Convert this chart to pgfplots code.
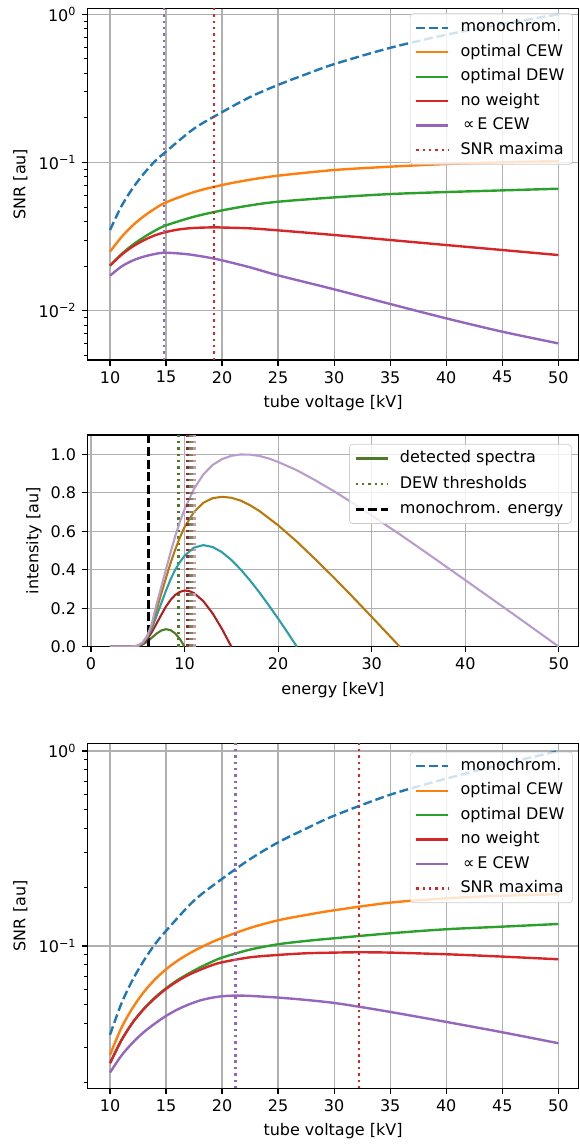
\documentclass[border=0pt]{standalone}
\usepackage{fontspec}
\setmainfont{DejaVu Sans}
\usepackage{pgfplots}
\pgfplotsset{compat=1.18}
\definecolor{C0}{HTML}{1F77B4}
\definecolor{C1}{HTML}{FF7F0E}
\definecolor{C2}{HTML}{2CA02C}
\definecolor{C3}{HTML}{D62728}
\definecolor{C4}{HTML}{9467BD}
\definecolor{sOlive}{HTML}{4E7A27}
\definecolor{sRed}{HTML}{B01F1F}
\definecolor{sTeal}{HTML}{2A9FA8}
\definecolor{sGold}{HTML}{B8780A}
\definecolor{sLilac}{HTML}{B89CCC}
\definecolor{gridc}{HTML}{B0B0B0}
\pgfplotsset{
  myaxis/.style={
    scale only axis, anchor=south west,
    axis line style={line width=0.8pt},
    tick align=outside, tick pos=left,
    major tick length=3.5pt, minor tick length=2pt,
    tick style={line width=0.8pt, black},
    minor tick style={line width=0.6pt, black},
    grid=major, major grid style={gridc, line width=0.8pt},
    /pgf/number format/assume math mode=true,
    legend cell align=left,
    legend style={fill=white, fill opacity=0.8, draw opacity=1, text opacity=1,
      draw=black!20, rounded corners=2pt, font=\fontsize{10}{12}\selectfont,
      nodes={inner sep=2pt, text height=7.5pt, text depth=2.2pt},
      /tikz/every odd column/.append style={column sep=5pt}},
    legend image code/.code={\draw[#1] (0pt,0pt) -- (20pt,0pt);},
    every axis plot/.append style={line width=1.5pt, line cap=butt},
  },
  mydash/.style={dash pattern=on 5.55pt off 2.4pt},
  mydot/.style={dash pattern=on 1.5pt off 2.475pt},
}
\begin{document}
\begin{tikzpicture}
\useasboundingbox (0,0) rectangle (361.9pt,715pt);
% ---------------- top axis ----------------
\begin{axis}[myaxis,
  at={(54.75pt,490pt)}, width=306.8pt, height=219.8pt,
  xmin=8, xmax=51.8, ymode=log, ymin=0.00465, ymax=1.098,
  xtick={10,15,...,50},
  ytick={0.01,0.1,1}, yticklabels={10\textsuperscript{−2},10\textsuperscript{−1},10\textsuperscript{0}},
  minor ytick={0.005,0.006,0.007,0.008,0.009,0.02,0.03,0.04,0.05,0.06,0.07,0.08,0.09,0.2,0.3,0.4,0.5,0.6,0.7,0.8,0.9},
  xlabel={tube voltage [kV]}, ylabel={SNR [au]},
  xlabel style={at={(axis description cs:0.5,0)}, anchor=center, yshift=-26.7pt},
  ylabel style={at={(axis description cs:-0.1369,0.5)}, anchor=center},
  legend style={at={(1,1)}, anchor=north east, xshift=-3.6pt, yshift=-3.1pt, row sep=1.6pt},
]
\addplot[C0, mydash, smooth] coordinates {(10,0.035)(11,0.0504)(12,0.0667)(13,0.0838)(14,0.1019)(15,0.1186)(17.5,0.1694)(20,0.2188)(22.5,0.2767)(25,0.3342)(27.5,0.3945)(30,0.4613)(35,0.5943)(40,0.7278)(45,0.859)(50,1.0)};
\addlegendentry{monochrom.}
\addplot[C1, smooth] coordinates {(10,0.02502)(11,0.03126)(12,0.03747)(13,0.04332)(14,0.04882)(15,0.05385)(17.5,0.06322)(20,0.0705)(22.5,0.07659)(25,0.0815)(30,0.08901)(35,0.09374)(40,0.0977)(45,0.1003)(50,0.1023)};
\addlegendentry{optimal CEW}
\addplot[C2, smooth] coordinates {(10,0.02013)(11,0.024)(12,0.02774)(13,0.03125)(14,0.03466)(15,0.03766)(17.5,0.04309)(20,0.04753)(22.5,0.05137)(25,0.05438)(30,0.05817)(35,0.06127)(40,0.0632)(45,0.06486)(50,0.06656)};
\addlegendentry{optimal DEW}
\addplot[C3, smooth] coordinates {(10,0.02013)(11,0.02375)(12,0.02704)(13,0.02984)(14,0.03226)(15,0.03397)(16,0.03522)(17,0.03596)(18,0.03633)(19.3,0.03652)(20,0.03643)(22.5,0.03596)(25,0.03486)(30,0.03243)(35,0.03)(40,0.02775)(45,0.02568)(50,0.02375)};
\addlegendentry{no weight}
\addplot[C4, smooth] coordinates {(10,0.01723)(11,0.01982)(12,0.02177)(13,0.02316)(14,0.02413)(14.8,0.02464)(16,0.02439)(17,0.024)(18,0.02339)(19,0.02268)(20,0.02187)(22.5,0.01962)(25,0.01732)(30,0.01394)(35,0.0111)(40,0.00888)(45,0.00722)(50,0.00602)};
\addlegendentry{\,∝\,E CEW}
\addplot[C4, mydot, forget plot] coordinates {(14.8,0.00465)(14.8,1.098)};
\addplot[C3, mydot] coordinates {(19.3,0.00465)(19.3,1.098)};
\addlegendentry{SNR maxima}
\end{axis}
% ---------------- middle axis ----------------
\begin{axis}[myaxis,
  at={(54.56pt,310.8pt)}, width=307pt, height=132.3pt,
  xmin=-0.4, xmax=52.1, ymin=0, ymax=1.1,
  xtick={0,10,...,50}, ytick={0,0.2,...,1.0},
  yticklabel style={/pgf/number format/.cd, fixed, fixed zerofill, precision=1},
  xlabel={energy [keV]}, ylabel={intensity [au]},
  xlabel style={at={(axis description cs:0.5,0)}, anchor=center, yshift=-27pt},
  ylabel style={at={(axis description cs:-0.1085,0.5)}, anchor=center},
  legend style={at={(1,1)}, anchor=north east, xshift=-4.25pt, yshift=-5.6pt, row sep=2.2pt},
  every axis plot/.append style={line width=1.3pt},
]
\addplot[sOlive] coordinates {(2,0)(3,0)(4,0)(5,0.003)(5.5,0.011)(6,0.027)(6.5,0.047)(7,0.068)(7.5,0.084)(8,0.091)(8.5,0.086)(9,0.069)(9.5,0.04)(10,0)};
\addlegendentry{detected spectra}
\addplot[sOlive, mydot, line width=1.5pt] coordinates {(9.35,0)(9.35,1.1)};
\addlegendentry{DEW thresholds}
\addplot[black, mydash, line width=1.5pt] coordinates {(6.15,0)(6.15,1.1)};
\addlegendentry{monochrom. energy}
\addplot[sRed, forget plot] coordinates {(2,0)(3,0)(4,0)(5,0.004)(5.5,0.015)(6,0.039)(6.5,0.076)(7,0.12)(7.5,0.165)(8,0.208)(8.5,0.243)(9,0.269)(9.5,0.285)(10,0.292)(10.5,0.289)(11,0.279)(12,0.237)(13,0.173)(14,0.092)(15,0)};
\addplot[sTeal, forget plot] coordinates {(2,0)(3,0)(4,0)(5,0.004)(5.5,0.018)(6,0.047)(6.5,0.095)(7,0.16)(7.5,0.225)(8,0.29)(8.5,0.35)(9,0.4)(9.5,0.44)(10,0.473)(11,0.515)(12,0.528)(13,0.518)(14,0.491)(15,0.451)(16,0.401)(17,0.344)(18,0.282)(19,0.215)(20,0.146)(21,0.074)(22,0)};
\addplot[sGold, forget plot] coordinates {(2,0)(3,0)(4,0)(5,0.005)(5.5,0.02)(6,0.053)(6.5,0.11)(7,0.19)(7.5,0.275)(8,0.355)(8.5,0.435)(9,0.505)(9.5,0.568)(10,0.622)(11,0.700)(12,0.748)(13,0.772)(14,0.779)(15,0.774)(16,0.759)(17,0.735)(18,0.705)(20,0.631)(22,0.546)(24,0.453)(26,0.357)(28,0.257)(30,0.155)(33,0)};
\addplot[sLilac, forget plot] coordinates {(2,0)(3,0)(4,0)(5,0.005)(5.5,0.021)(6,0.056)(6.5,0.12)(7,0.22)(7.5,0.31)(8,0.40)(8.5,0.49)(9,0.575)(9.5,0.65)(10,0.715)(11,0.82)(12,0.895)(13,0.945)(14,0.975)(15,0.992)(16,0.999)(17,0.998)(18,0.991)(19,0.978)(20,0.960)(22,0.917)(24,0.864)(26,0.807)(28,0.746)(30,0.682)(33,0.584)(36,0.483)(40,0.346)(45,0.174)(50,0)};
\addplot[sRed, mydot, line width=1.5pt, forget plot] coordinates {(10.3,0)(10.3,1.1)};
\addplot[sTeal, mydot, line width=1.5pt, forget plot] coordinates {(10.55,0)(10.55,1.1)};
\addplot[sGold, mydot, line width=1.5pt, forget plot] coordinates {(10.8,0)(10.8,1.1)};
\addplot[sLilac, mydot, line width=1.5pt, forget plot] coordinates {(11.05,0)(11.05,1.1)};
\end{axis}
% ---------------- bottom axis ----------------
\begin{axis}[myaxis,
  at={(54.75pt,34.8pt)}, width=306.8pt, height=215.6pt,
  xmin=8, xmax=51.8, ymode=log, ymin=0.0186, ymax=1.095,
  xtick={10,15,...,50},
  ytick={0.1,1}, yticklabels={10\textsuperscript{−1},10\textsuperscript{0}},
  minor ytick={0.02,0.03,0.04,0.05,0.06,0.07,0.08,0.09,0.2,0.3,0.4,0.5,0.6,0.7,0.8,0.9},
  xlabel={tube voltage [kV]}, ylabel={SNR [au]},
  xlabel style={at={(axis description cs:0.5,0)}, anchor=center, yshift=-26.7pt},
  ylabel style={at={(axis description cs:-0.1369,0.5)}, anchor=center},
  legend style={at={(1,1)}, anchor=north east, xshift=-3.6pt, yshift=-5.25pt, row sep=1.6pt},
]
\addplot[C0, mydash, smooth] coordinates {(10,0.035)(11,0.0504)(12,0.0667)(13,0.0838)(14,0.1019)(15,0.1195)(17.5,0.171)(20,0.221)(22.5,0.279)(25,0.340)(27.5,0.4)(30,0.466)(35,0.597)(40,0.722)(45,0.856)(50,1.0)};
\addlegendentry{monochrom.}
\addplot[C1, smooth] coordinates {(10,0.02761)(11,0.03783)(12,0.0479)(13,0.05785)(14,0.06722)(15,0.07594)(16,0.08378)(17,0.091)(18,0.09766)(19,0.104)(20,0.1099)(22.5,0.1237)(25,0.1354)(27.5,0.1442)(30,0.1524)(35,0.1668)(40,0.1755)(45,0.1811)(50,0.1841)};
\addlegendentry{optimal CEW}
\addplot[C2, smooth] coordinates {(10,0.02502)(11,0.03269)(12,0.04028)(13,0.04751)(14,0.05433)(15,0.06066)(16,0.06665)(17,0.0721)(18,0.07743)(19,0.08246)(20,0.08714)(22.5,0.09577)(25,0.102)(27.5,0.1061)(30,0.1095)(35,0.1161)(40,0.1218)(45,0.1256)(50,0.1296)};
\addlegendentry{optimal DEW}
\addplot[C3, smooth] coordinates {(10,0.02502)(11,0.03269)(12,0.04028)(13,0.04733)(14,0.0539)(15,0.06018)(16,0.06588)(17,0.07101)(18,0.0753)(19,0.07928)(20,0.08246)(22.5,0.08746)(25,0.08991)(27.5,0.09171)(30,0.09243)(32.2,0.0928)(35,0.09243)(40,0.09064)(45,0.08817)(50,0.08543)};
\addlegendentry{no weight}
\addplot[C4, smooth] coordinates {(10,0.02241)(11,0.02729)(12,0.03181)(13,0.03607)(14,0.03997)(15,0.04375)(16,0.04714)(17,0.05001)(18,0.05244)(19,0.05411)(20,0.05519)(21.2,0.05563)(22.5,0.05541)(25,0.05433)(27.5,0.05284)(30,0.051)(32.5,0.04847)(35,0.04586)(40,0.04076)(45,0.03607)(50,0.03169)};
\addlegendentry{\,∝\,E CEW}
\addplot[C4, mydot, forget plot] coordinates {(21.2,0.0186)(21.2,1.095)};
\addplot[C3, mydot] coordinates {(32.2,0.0186)(32.2,1.095)};
\addlegendentry{SNR maxima}
\end{axis}
\end{tikzpicture}
\end{document}
